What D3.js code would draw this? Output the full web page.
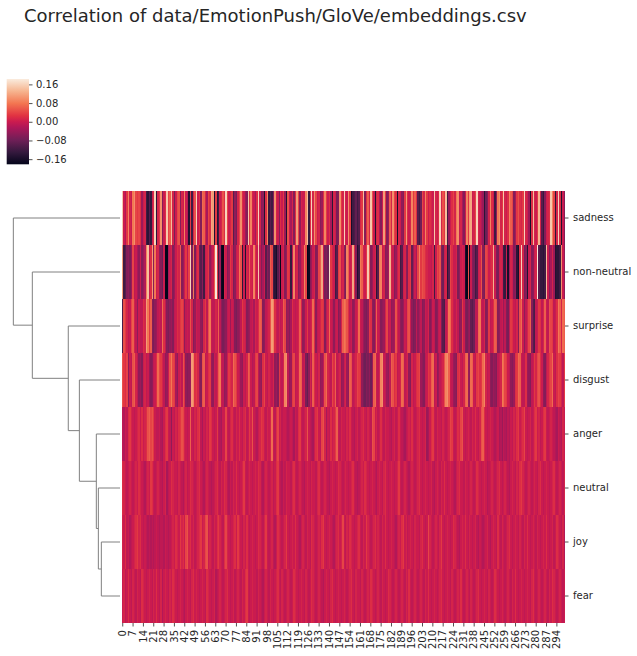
<!DOCTYPE html>
<html><head><meta charset="utf-8">
<script src="https://cdn.jsdelivr.net/npm/d3@7"></script>
<style>body{margin:0;background:#fff;} text{font-family:"DejaVu Sans",sans-serif;}</style>
</head><body>
<script>
// ---------------- data (correlations, in hundredths) ----------------
const title = "Correlation of data/EmotionPush/GloVe/embeddings.csv";
const rowNames = ["sadness","non-neutral","surprise","disgust","anger","neutral","joy","fear"];
const valueUnit = 0.01;

const sadness = [
15,0,-2,3,9,1,0,8,10,4,
3,4,2,-4,0,1,-12,-14,-10,-13,
0,2,16,-14,1,3,10,-6,0,2,
15,4,6,14,1,-7,0,4,5,-6,
1,0,9,0,-2,-15,3,-12,1,5,
16,0,2,-6,7,6,1,-3,4,2,
12,11,-15,3,-14,-12,0,1,5,2,
16,4,0,1,3,-10,-5,-7,1,4,
10,2,0,-4,-6,15,3,9,1,0,
-3,2,16,1,-6,-5,-15,2,9,-13,
-10,-12,-6,10,1,0,-6,2,0,3,
-4,-15,5,0,-3,1,-6,2,11,4,
-5,1,0,0,9,14,-13,2,16,1,
10,4,0,1,-6,-4,2,9,3,0,
2,-3,-14,1,0,-7,-6,10,3,1,
16,1,0,10,3,-16,-12,-11,-9,-12,
-10,1,3,14,-6,2,6,1,15,5,
0,-15,1,2,-2,-6,0,11,3,-6,
-4,6,1,10,4,2,-16,1,0,-5,
-6,3,11,2,0,1,9,3,6,2,
-10,-12,-8,4,1,9,3,0,2,1,
0,15,1,0,2,16,1,5,3,14,
-12,-4,0,2,4,1,8,10,0,1,
-3,-6,0,9,3,11,12,0,1,4,
16,1,0,-2,-4,-14,-8,-6,1,9,
2,0,-12,-5,8,10,1,3,15,1,
0,2,9,6,4,-6,-3,3,5,2,
1,3,16,1,0,-4,-16,2,14,1,
0,3,13,1,-10,-13,-6,0,1,2,
15,9,4,-14,1,16,2,-15,0,-6];

const nonNeutral = [
11,-12,-10,-6,-5,-7,-4,4,-1,0,
-3,-5,0,-6,-4,-2,9,14,0,2,
11,-6,8,0,1,-5,-6,-8,0,-18,
-18.2,-3,0,1,-6,-4,0,2,1,6,
-6,-4,0,3,-1,4,16,-6,8,-7,
0,2,-8,-10,-6,-12,0,1,3,-5,
-2,0,6,18,3,-12,-4,-17,-18,1,
0,-6,-4,3,1,-7,-5,0,1,8,
5,-14,0,-15,1,0,6,1,0,9,
2,0,15,-1,-6,-3,0,-10,-6,-8,
6,4,-12,-14,-16,-10,-6,-18,0,1,
-6,-4,3,2,-13,-1,9,0,1,-6,
-4,0,1,9,4,-18,-17,-6,-4,0,
1,-6,-5,4,6,12,0,-7,-6,-8,
17,3,1,0,-12,-10,3,5,0,1,
-5,-7,9,6,0,1,12,2,-6,-15,
-12,8,6,1,0,3,15,5,-6,-4,
0,1,-14,-10,8,9,0,1,-6,-5,
-3,13,1,0,-6,-4,0,2,-12,-10,
0,1,-5,-6,2,3,-9,-4,0,-3,
4,9,3,5,4,2,1,0,0,-1,
1,-12,0,4,3,5,-6,-8,0,1,
-14,-10,4,2,0,0,1,-7,-5,0,
1,0,-16,-18,5,-18,0,-6,-7,-12,
-10,0,1,5,-6,-7,4,3,0,1,
2,13,0,-6,-7,0,1,0,-12,-13,
0,-16,-4,1,0,-6,-5,-14,-16,2,
16,1,-7,-6,-15,0,1,-6,-5,0,
1,18.3,-10,-13,-13,-14,-12,14,0,-6,
-3,1,-4,-15,-14,-14,-12,10,0,-5];

const surprise = [
-11,5,3,1,-1,0,4,6,1,-1,
-5,0,-1,-1,2,1,11,8,3,6,
-6,-7,-5,-4,-1,0,-1,7,2,-1,
-6,-7,-5,-4,-6,-1,0,2,1,3,
4,2,-5,-1,0,-1,5,1,-6,-4,
0,-1,-1,-5,-6,1,3,-1,5,8,
0,-1,-1,1,0,6,-1,-5,-7,-6,
-5,-1,0,-4,0,-1,-6,-7,-5,-4,
-1,3,1,0,-6,-5,-4,-1,0,-3,
1,0,2,6,5,-6,-5,-1,0,1,
5,11,9,2,0,-1,1,-1,0,6,
4,-5,-4,-6,-3,2,0,-1,0,1,
6,1,-5,-4,0,3,-1,0,1,7,
2,-5,-1,0,1,3,2,-6,-1,1,
7,0,-1,-5,-1,0,-6,-4,1,6,
8,7,5,2,-1,0,-5,-4,0,1,
7,0,-1,-4,-6,-7,-5,3,2,-5,
-6,-1,6,0,-1,-6,-5,-4,1,4,
-1,0,-5,-4,-3,5,1,-1,-5,-6,
-4,0,-1,4,5,0,-5,-7,-6,-1,
-5,-3,-1,-6,-5,0,-1,1,-6,-4,
0,-1,-6,-5,-1,0,-7,-10,-11,-1,
1,8,7,2,0,-1,1,-1,-6,-5,
3,0,-6,-7,-5,-4,-9,-10,-8,-1,
-1,7,8,0,-1,1,-6,-5,3,-1,
0,2,6,5,-6,-5,-1,0,-4,-1,
-6,-7,-1,3,2,0,-1,1,-6,5,
7,0,-5,-1,1,4,6,-6,-10,-11,
-1,0,3,2,-1,1,6,0,-1,5,
4,3,-1,0,2,8,6,1,7,6];

const disgust = [
5,3,2,4,-5,0,-1,5,6,1,
-1,-5,-4,-6,0,1,-1,0,-4,-6,
-5,-1,0,2,7,4,3,1,-1,-5,
-4,0,5,8,4,3,-3,-5,0,1,
-1,5,2,-5,-6,-5,-4,11,9,2,
3,1,-4,-6,5,6,-1,0,2,3,
-4,-5,0,-1,1,6,8,0,-1,-5,
-4,0,3,2,1,7,5,3,0,-1,
-4,-5,0,-1,1,6,5,0,-2,-1,
3,4,-1,-4,-5,2,4,0,-1,1,
0,-1,1,-5,-4,-6,3,0,-1,1,
9,10,-1,-5,-4,3,4,-1,0,1,
7,6,-1,0,-7,-9,-5,1,-1,6,
2,0,-1,1,-5,-4,-1,5,7,1,
0,-1,4,2,6,-1,0,1,-5,-4,
0,1,-4,-5,6,5,-1,0,1,4,
3,2,-5,-7,-8,-6,-7,-5,-8,-4,
6,7,0,-1,1,9,10,0,-1,-4,
-5,-1,6,5,2,3,-1,0,1,7,
6,-1,0,1,-5,-6,1,-1,0,2,
3,4,-4,-5,-6,-1,0,3,2,6,
7,-1,0,-5,-4,-1,0,1,5,9,
10,6,0,-1,-4,-5,-6,2,3,0,
-1,1,6,7,-4,-5,7,6,0,-1,
3,4,2,3,7,9,1,-1,0,-5,
-6,-4,-5,-6,-1,0,1,8,7,4,
3,0,-1,-5,-6,-4,2,3,7,6,
0,-1,-1,2,-4,-5,-6,-1,0,3,
1,4,5,2,0,-5,-6,-1,1,3,
4,7,0,-1,2,4,3,1,-1,3];

const anger = [
-1,-2,0,-1,2,3,1,0,-1,0,
1,2,0,2,0,1,2,5,6,4,
5,3,0,-1,-1,0,-2,-3,0,2,
3,0,-1,-5,0,-1,1,0,2,3,
5,4,1,0,-1,0,6,0,-1,1,
0,2,3,-1,-3,0,-1,1,0,3,
2,0,-1,0,3,-1,-2,-3,0,0,
4,0,-1,1,2,0,-1,1,0,2,
0,-1,1,2,-1,0,3,1,5,0,
-1,-2,0,1,3,2,0,-1,1,0,
1,7,0,-1,2,4,0,1,-1,0,
0,-1,-2,-1,0,-1,-3,0,-1,2,
3,0,-1,0,1,5,0,-1,-2,-3,
0,2,3,0,-1,4,5,1,-3,0,
-1,2,0,1,3,6,0,-1,1,0,
0,-1,1,0,2,0,-1,-2,0,1,
-1,0,1,2,0,-1,1,0,-1,5,
4,0,1,-1,0,2,0,-1,1,0,
0,-1,-2,0,1,-1,0,2,0,-1,
-2,-3,-1,0,1,0,2,0,-1,0,
1,2,0,-1,0,1,-4,-3,0,2,
3,0,-1,1,0,0,-1,1,0,-1,
0,1,4,3,0,-1,0,2,1,4,
5,0,-1,0,1,0,-1,1,0,2,
0,-1,1,5,6,2,0,-1,0,1,
0,-1,-2,-1,0,-3,-2,-4,-1,-2,
-3,-1,-2,0,-1,1,0,2,3,0,
1,2,4,0,-1,0,1,-1,0,2,
3,0,1,-1,0,2,3,0,-1,0,
1,0,-1,-2,-3,0,-1,-2,1,0];

const neutral = [
2,1,0,-1,0,1,0,-1,0,1,
0,2,1,0,-1,-2,0,1,0,3,
2,0,-1,0,1,0,-1,-2,0,1,
-3,-1,0,2,1,0,0,-1,1,0,
-1,-2,0,1,-1,0,2,1,0,-1,
0,1,2,0,-1,-2,0,1,0,-1,
-2,-1,0,1,2,0,-1,1,0,2,
1,-1,-2,0,-1,1,0,2,0,-1,
0,1,3,0,-1,0,1,0,-1,0,
1,0,2,1,-1,-2,0,1,0,-1,
0,1,-1,0,2,3,0,-1,-2,0,
-1,1,0,0,-1,1,2,0,-1,0,
1,0,-1,-2,0,1,0,-1,1,0,
0,-1,1,2,0,-1,0,1,0,-1,
-2,0,1,0,-1,0,2,1,0,-1,
0,1,0,-1,0,1,2,0,-1,-2,
-1,0,1,0,2,1,0,-1,0,1,
0,-1,-2,0,1,0,-1,1,2,0,
-1,0,1,0,-1,0,1,3,0,-1,
0,1,0,-1,-2,0,1,0,-1,0,
1,2,0,-1,0,1,0,-1,0,1,
-1,-2,0,1,0,-1,1,0,2,0,
-1,0,1,0,-1,-2,0,1,2,0,
0,-1,1,0,-1,0,1,0,-1,0,
2,1,0,-1,0,1,0,-2,-1,0,
1,0,-1,0,1,2,0,-1,0,1,
0,-1,-2,0,1,0,-1,1,0,2,
3,1,0,-1,0,1,0,-1,0,1,
0,-1,1,2,0,-1,0,1,0,-1,
0,1,2,0,-1,0,1,0,-1,1];

const joy = [
1,0,2,-1,0,-2,-1,0,1,2,
3,1,2,0,-1,0,-1,-2,-1,-2,
-1,-2,-1,0,-1,-2,-1,-1,-2,0,
-1,-2,-1,0,1,0,2,1,0,3,
1,2,0,4,5,1,2,0,1,-1,
0,1,2,3,0,1,4,5,0,1,
0,-1,1,0,2,3,1,0,-1,2,
4,1,0,-1,0,1,2,0,3,1,
0,-1,1,0,2,0,-1,0,1,0,
-1,0,2,1,0,-1,1,3,0,-1,
0,1,-1,-2,0,2,1,0,-1,0,
1,3,0,-1,0,1,0,2,0,-1,
-2,0,1,0,-1,1,0,-1,2,1,
0,-1,0,1,0,2,3,0,-1,0,
1,0,-1,-2,0,1,2,0,1,4,
0,-1,1,0,2,1,0,-1,0,1,
2,0,-1,1,0,3,1,0,-1,0,
1,2,0,1,0,-1,1,0,2,0,
-1,0,1,0,-1,-2,0,1,0,2,
3,0,1,-1,0,1,0,-1,1,0,
0,-1,1,2,0,-1,0,4,1,0,
-1,0,1,0,-1,1,3,0,-1,0,
1,0,-1,0,2,1,0,-1,-2,0,
1,0,2,0,-1,1,0,-1,0,1,
-1,-2,0,-1,-2,-1,0,1,-1,-2,
0,1,0,-1,2,0,-1,1,0,-1,
0,1,2,0,-1,0,1,0,-1,1,
0,-1,1,0,2,0,-1,0,1,0,
-1,1,0,-1,0,1,0,2,0,-1,
0,1,-1,0,2,1,0,-1,1,-2];

const fear = [
0,1,-1,0,2,0,-1,1,0,-1,
1,0,-1,2,1,0,-1,0,1,0,
-1,1,0,2,0,-1,1,-2,0,1,
0,-1,1,0,2,1,0,-1,0,1,
0,-1,-2,0,1,0,-1,1,2,0,
1,0,-1,0,1,0,-1,2,1,0,
-1,0,1,-2,-1,0,1,0,-1,0,
1,2,0,-1,0,1,-1,0,1,0,
-1,1,0,2,3,0,-1,0,1,0,
0,-1,1,0,-1,-2,0,1,0,-1,
1,0,-1,0,1,2,0,-1,1,0,
-1,0,1,0,-1,0,2,1,0,-1,
0,1,0,-1,1,0,-1,0,2,1,
0,-1,0,1,0,-1,-2,0,1,0,
-1,1,2,0,-1,0,1,0,-1,0,
1,0,-1,0,1,2,0,-1,1,0,
0,-1,1,0,-1,0,1,0,2,1,
0,-1,0,1,0,-1,1,0,-1,0,
2,1,0,-1,0,1,0,-1,0,1,
0,-1,1,0,2,0,-1,0,1,0,
-1,0,1,0,-1,1,0,2,0,-1,
0,1,0,-1,0,1,2,0,-1,0,
1,0,-1,1,0,-1,0,1,0,2,
0,-1,0,1,0,-1,1,0,-1,0,
1,2,0,-1,0,1,0,-1,1,0,
-1,0,2,1,0,-1,0,1,0,-1,
0,1,0,-1,1,0,2,0,-1,0,
1,0,-1,0,1,0,-1,1,2,0,
-1,0,1,0,-1,0,1,0,-1,1,
0,2,1,0,-1,0,1,0,-1,0];

const colTickStep = 7;
const colorbarTicks = [0.16, 0.08, 0.00, -0.08, -0.16];
const colorbarTickLabels = ["0.16", "0.08", "0.00", "\u22120.08", "\u22120.16"];

// hierarchical clustering of the rows (merge heights, relative)
const dendroMerges = [
  {id: "m1", left: "joy", right: "fear", height: 0.175},
  {id: "m2", left: "neutral", right: "m1", height: 0.203},
  {id: "m3", left: "anger", right: "m2", height: 0.222},
  {id: "m4", left: "disgust", right: "m3", height: 0.381},
  {id: "m5", left: "surprise", right: "m4", height: 0.485},
  {id: "m6", left: "non-neutral", right: "m5", height: 0.822},
  {id: "m7", left: "sadness", right: "m6", height: 1.0}
];

// ---------------- build ----------------
const rowValues = {
  "sadness": sadness, "non-neutral": nonNeutral, "surprise": surprise, "disgust": disgust,
  "anger": anger, "neutral": neutral, "joy": joy, "fear": fear
};
const nCols = sadness.length;
const columns = d3.range(nCols);
const cells = [];
rowNames.forEach(r => rowValues[r].forEach((v, c) => cells.push({row: r, col: c, value: v * valueUnit})));

const W = 637, H = 656;
const svg = d3.select("body").append("svg").attr("width", W).attr("height", H);
const ink = "#262626";

// rocket colormap
const rocketStops = [
  [0, "#03051a"], [0.143, "#35193e"], [0.286, "#701f57"], [0.429, "#ad1759"],
  [0.5, "#cb1b4f"], [0.571, "#e13342"], [0.714, "#f37651"], [0.857, "#f6b48f"], [1, "#faebdd"]
];
const [vmin, vmax] = d3.extent(cells, d => d.value);
const color = d3.scaleLinear()
  .domain(rocketStops.map(s => vmin + s[0] * (vmax - vmin)))
  .range(rocketStops.map(s => s[1]))
  .interpolate(d3.interpolateRgb)
  .clamp(true);

// title
svg.append("text").attr("x", 24).attr("y", 21.5)
  .attr("font-size", 18).attr("fill", ink).text(title);

// heatmap
const hm = {left: 122, right: 565, top: 191, bottom: 623};
const x = d3.scaleBand().domain(columns).range([hm.left, hm.right]).padding(0);
const y = d3.scaleBand().domain(rowNames).range([hm.top, hm.bottom]).padding(0);

svg.append("g").attr("shape-rendering", "crispEdges")
  .selectAll("rect").data(cells).join("rect")
  .attr("x", d => x(d.col)).attr("y", d => y(d.row))
  .attr("width", x.bandwidth() + 0.01).attr("height", y.bandwidth())
  .attr("fill", d => color(d.value));

// column axis
const xAxis = svg.append("g").attr("transform", `translate(0,${hm.bottom})`)
  .call(d3.axisBottom(x).tickValues(columns.filter(c => c % colTickStep === 0)).tickSize(3.5).tickSizeOuter(0));
xAxis.select(".domain").remove();
xAxis.selectAll(".tick line").attr("stroke", ink).attr("stroke-width", 0.8);
xAxis.selectAll(".tick text")
  .attr("transform", "rotate(-90)").attr("x", -7).attr("y", 0).attr("dy", "0.32em")
  .style("text-anchor", "end").attr("font-size", 10).attr("fill", ink)
  .attr("font-family", "DejaVu Sans");

// row axis
const yAxis = svg.append("g").attr("transform", `translate(${hm.right},0)`)
  .call(d3.axisRight(y).tickSize(3.5).tickPadding(4.5).tickSizeOuter(0));
yAxis.select(".domain").remove();
yAxis.selectAll(".tick line").attr("stroke", ink).attr("stroke-width", 0.8);
yAxis.selectAll(".tick text").attr("font-size", 10).attr("fill", ink).attr("font-family", "DejaVu Sans");

// dendrogram
const maxH = d3.max(dendroMerges, d => d.height);
const dx = d3.scaleLinear().domain([0, maxH * 1.05]).range([120, 8]);
const pos = {};
rowNames.forEach(r => pos[r] = {y: y(r) + y.bandwidth() / 2, h: 0});
const dg = svg.append("g").attr("fill", "none").attr("stroke", "#808080").attr("stroke-width", 1);
dendroMerges.forEach(m => {
  const a = pos[m.left], b = pos[m.right];
  const p = d3.path();
  p.moveTo(dx(a.h), a.y); p.lineTo(dx(m.height), a.y);
  p.lineTo(dx(m.height), b.y); p.lineTo(dx(b.h), b.y);
  dg.append("path").attr("d", p.toString());
  pos[m.id] = {y: (a.y + b.y) / 2, h: m.height};
});

// colorbar
const cb = {left: 6.7, right: 29, top: 79, bottom: 164.3};
const cy = d3.scaleLinear().domain([vmin, vmax]).range([cb.bottom, cb.top]);
const defs = svg.append("defs");
const grad = defs.append("linearGradient").attr("id", "rocket")
  .attr("x1", 0).attr("y1", 1).attr("x2", 0).attr("y2", 0);
grad.selectAll("stop").data(rocketStops).join("stop")
  .attr("offset", d => d[0]).attr("stop-color", d => d[1]);
svg.append("rect").attr("x", cb.left).attr("y", cb.top)
  .attr("width", cb.right - cb.left).attr("height", cb.bottom - cb.top)
  .attr("fill", "url(#rocket)");
const cAxis = svg.append("g").attr("transform", `translate(${cb.right},0)`)
  .call(d3.axisRight(cy).tickValues(colorbarTicks).tickSize(3.5).tickPadding(3.5)
    .tickFormat((d, i) => colorbarTickLabels[i]).tickSizeOuter(0));
cAxis.select(".domain").remove();
cAxis.selectAll(".tick line").attr("stroke", ink).attr("stroke-width", 0.8);
cAxis.selectAll(".tick text").attr("font-size", 10).attr("fill", ink).attr("font-family", "DejaVu Sans");
</script>
</body></html>
